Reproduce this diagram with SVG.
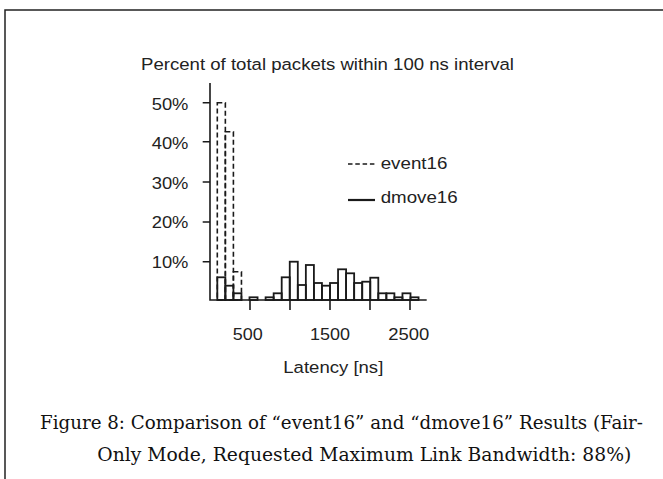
<svg xmlns="http://www.w3.org/2000/svg" width="663" height="479" viewBox="0 0 663 479">
  <style>
    .frame { fill: none; stroke: #222; stroke-width: 1.5; }
    .axis { fill: none; stroke: #1a1a1a; stroke-width: 1.6; }
    .bar { fill: none; stroke: #1a1a1a; stroke-width: 1.8; }
    .dash { fill: none; stroke: #1a1a1a; stroke-width: 1.6; stroke-dasharray: 5 3; }
    .sans { font-family: "Liberation Sans", Arial, sans-serif; font-size: 16.3px; fill: #222; }
    .serif { font-family: "DejaVu Serif", "Liberation Serif", serif; font-size: 18px; fill: #111; }
  </style>

  <!-- page frame -->
  <path class="frame" d="M5,479 V10 H663"/>

  <!-- chart title -->
  <text class="sans" x="141" y="70" textLength="373" lengthAdjust="spacingAndGlyphs">Percent of total packets within 100 ns interval</text>

  <!-- axes and ticks -->
  <g id="axes">
    <path class="axis" d="M210,83 V300 H426.7"/>
    <path class="axis" d="M202.7,102.7 H210 M202.7,141.7 H210 M202.7,182 H210 M202.7,222 H210 M202.7,261.7 H210"/>
    <path class="axis" d="M250,300 V310 M290,300 V310 M330,300 V310 M370,300 V310 M410,300 V310"/>
  </g>

  <!-- y-axis labels -->
  <g id="y-labels">
    <text class="sans" x="151.7" y="109.5" textLength="36.7" lengthAdjust="spacingAndGlyphs">50%</text>
    <text class="sans" x="151.7" y="149" textLength="36.7" lengthAdjust="spacingAndGlyphs">40%</text>
    <text class="sans" x="151.7" y="188.5" textLength="36.7" lengthAdjust="spacingAndGlyphs">30%</text>
    <text class="sans" x="151.7" y="228" textLength="36.7" lengthAdjust="spacingAndGlyphs">20%</text>
    <text class="sans" x="151.7" y="267.7" textLength="36.7" lengthAdjust="spacingAndGlyphs">10%</text>
  </g>

  <!-- x-axis labels -->
  <g id="x-labels">
    <text class="sans" x="232.7" y="339.5" textLength="30" lengthAdjust="spacingAndGlyphs">500</text>
    <text class="sans" x="310" y="339.5" textLength="40" lengthAdjust="spacingAndGlyphs">1500</text>
    <text class="sans" x="388.3" y="339.5" textLength="41" lengthAdjust="spacingAndGlyphs">2500</text>
    <text class="sans" x="283.3" y="372.5" textLength="100" lengthAdjust="spacingAndGlyphs">Latency [ns]</text>
  </g>

  <!-- event16 histogram (dashed) -->
  <g id="event16">
    <rect class="dash" x="217.3" y="102.7" width="8.05" height="197.3"/>
    <rect class="dash" x="225.35" y="131.7" width="8.05" height="168.3"/>
    <rect class="dash" x="233.4" y="271.7" width="8.05" height="28.3"/>
  </g>

  <!-- dmove16 histogram (solid) -->
  <g id="dmove16">
    <rect class="bar" x="217.3" y="277.3" width="8.05" height="22.7"/>
    <rect class="bar" x="225.35" y="285.7" width="8.05" height="14.3"/>
    <rect class="bar" x="233.4" y="293.3" width="8.05" height="6.7"/>
    <rect class="bar" x="249.5" y="297.3" width="8.05" height="2.7"/>
    <rect class="bar" x="265.6" y="297.3" width="8.05" height="2.7"/>
    <rect class="bar" x="273.65" y="293.3" width="8.05" height="6.7"/>
    <rect class="bar" x="281.7" y="277.3" width="8.05" height="22.7"/>
    <rect class="bar" x="289.75" y="261.7" width="8.05" height="38.3"/>
    <rect class="bar" x="297.8" y="285" width="8.05" height="15"/>
    <rect class="bar" x="305.85" y="265" width="8.05" height="35"/>
    <rect class="bar" x="313.9" y="283" width="8.05" height="17"/>
    <rect class="bar" x="321.95" y="285.7" width="8.05" height="14.3"/>
    <rect class="bar" x="330" y="283" width="8.05" height="17"/>
    <rect class="bar" x="338.05" y="269.3" width="8.05" height="30.7"/>
    <rect class="bar" x="346.1" y="273.3" width="8.05" height="26.7"/>
    <rect class="bar" x="354.15" y="283" width="8.05" height="17"/>
    <rect class="bar" x="362.2" y="281.7" width="8.05" height="18.3"/>
    <rect class="bar" x="370.25" y="277.7" width="8.05" height="22.3"/>
    <rect class="bar" x="378.3" y="293.3" width="8.05" height="6.7"/>
    <rect class="bar" x="386.35" y="293.3" width="8.05" height="6.7"/>
    <rect class="bar" x="394.4" y="297.3" width="8.05" height="2.7"/>
    <rect class="bar" x="402.45" y="293.3" width="8.05" height="6.7"/>
    <rect class="bar" x="410.5" y="297.3" width="8.05" height="2.7"/>
  </g>

  <!-- legend -->
  <g id="legend">
    <path class="dash" d="M348,164 H375" style="stroke-dasharray: 4.5 2.8"/>
    <text class="sans" x="380.7" y="169" textLength="66.7" lengthAdjust="spacingAndGlyphs">event16</text>
    <path class="bar" d="M348,200 H375" style="stroke-width: 2.2"/>
    <text class="sans" x="380.7" y="202.7" textLength="77" lengthAdjust="spacingAndGlyphs">dmove16</text>
  </g>

  <!-- figure caption -->
  <g id="caption">
    <text class="serif" x="40" y="429" textLength="603" lengthAdjust="spacingAndGlyphs">Figure 8: Comparison of “event16” and “dmove16” Results (Fair-</text>
    <text class="serif" x="97.3" y="460.5" textLength="534" lengthAdjust="spacingAndGlyphs">Only Mode, Requested Maximum Link Bandwidth: 88%)</text>
  </g>
</svg>
